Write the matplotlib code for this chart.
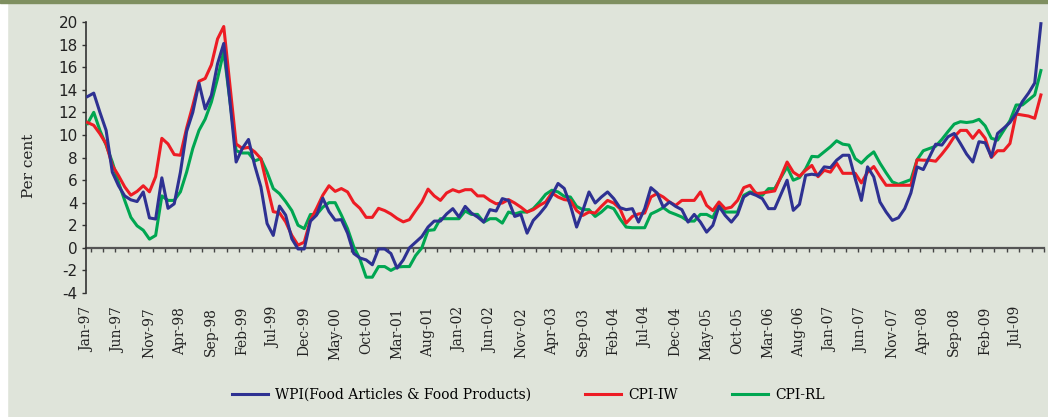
import matplotlib
matplotlib.use("Agg")
import matplotlib.pyplot as plt
from matplotlib.patches import Rectangle
import numpy as np

plt.rcParams["axes.unicode_minus"] = False

# monthly series, Jan-97 .. Nov-09 (per cent, y-o-y)
wpi_food = [
    13.4, 13.7, 12.0, 10.4, 6.7, 5.5, 4.6, 4.25, 4.1, 4.95, 2.65, 2.55,
    6.2, 3.5, 3.9, 6.7, 10.3, 12.0, 14.6, 12.3, 13.5, 16.3, 18.1, 13.0,
    7.6, 8.8, 9.6, 7.3, 5.4, 2.15, 1.1, 3.7, 2.9, 0.8, -0.1, -0.1,
    2.36, 2.9, 4.4, 3.2, 2.45, 2.5, 1.3, -0.5, -0.9, -1.07, -1.5, -0.1,
    -0.1, -0.5, -1.8, -1.07, 0.0, 0.5, 1.0, 1.84, 2.37, 2.37, 3.0, 3.47,
    2.73, 3.67, 3.08, 2.73, 2.28, 3.38, 3.26, 4.36, 4.2, 2.78, 2.96, 1.3,
    2.43, 3.0, 3.67, 4.65, 5.7, 5.26, 3.76, 1.84, 3.3, 4.95, 3.97, 4.5,
    4.95, 4.36, 3.56, 3.38, 3.47, 2.28, 3.47, 5.33, 4.86, 3.6, 4.06, 3.67,
    3.38, 2.28, 2.96, 2.28, 1.39, 1.99, 3.67, 2.87, 2.28, 2.96, 4.5, 4.86,
    4.65, 4.36, 3.47, 3.47, 4.74, 5.99, 3.32, 3.85, 6.43, 6.52, 6.43, 7.17,
    7.1, 7.76, 8.2, 8.2, 6.13, 4.2, 7.17, 6.28, 4.06, 3.17, 2.43, 2.67,
    3.47, 4.86, 7.17, 6.93, 8.06, 9.18, 9.1, 9.84, 10.13, 9.24, 8.3, 7.6,
    9.4, 9.3, 8.06, 10.13, 10.6, 11.1, 11.9, 12.95, 13.7, 14.6, 19.85,
]
cpi_iw = [
    11.1, 10.85, 10.1, 9.2, 7.3, 6.4, 5.4, 4.66, 5.0, 5.5, 4.96, 6.3,
    9.7, 9.2, 8.26, 8.2, 10.6, 12.6, 14.75, 15.0, 16.2, 18.5, 19.6, 14.4,
    9.2, 8.8, 8.9, 8.5, 7.9, 5.5, 3.2, 3.1, 2.3, 1.1, 0.24, 0.5,
    2.45, 3.5, 4.66, 5.5, 5.0, 5.25, 4.95, 4.0, 3.5, 2.7, 2.7, 3.5,
    3.3, 3.0, 2.6, 2.3, 2.5, 3.3, 4.06, 5.2, 4.6, 4.2, 4.86, 5.15,
    4.95, 5.15, 5.15, 4.6, 4.6, 4.2, 3.9, 3.97, 4.27, 3.97, 3.6, 3.17,
    3.38, 3.76, 4.06, 4.86, 4.5, 4.27, 4.2, 3.3, 2.87, 3.17, 3.08, 3.67,
    4.2, 3.97, 3.47, 2.19, 2.78, 3.0, 3.08, 4.5, 4.8, 4.5, 4.06, 3.76,
    4.2, 4.2, 4.2, 4.95, 3.76, 3.3, 4.06, 3.47, 3.6, 4.2, 5.33, 5.54,
    4.8, 4.86, 4.95, 5.04, 6.3, 7.6, 6.7, 6.34, 6.87, 7.3, 6.3, 6.87,
    6.7, 7.5, 6.6, 6.6, 6.6, 5.75, 6.7, 7.2, 6.34, 5.54, 5.54, 5.54,
    5.54, 5.54, 7.8, 7.76, 7.76, 7.67, 8.3, 9.0, 9.84, 10.4, 10.4, 9.7,
    10.4, 9.7, 8.0, 8.6, 8.6, 9.24, 11.85, 11.76, 11.67, 11.47, 13.54,
]
cpi_rl = [
    11.0, 12.0, 10.4, 9.1, 7.6, 5.8, 4.2, 2.7, 1.95, 1.56, 0.77, 1.1,
    4.6, 4.2, 4.2, 4.96, 6.7, 8.8, 10.4, 11.4, 12.9, 15.0, 17.4, 13.0,
    8.6, 8.4, 8.4, 7.7, 7.9, 6.7, 5.25, 4.8, 4.1, 3.3, 2.0, 1.7,
    2.95, 2.95, 3.6, 4.0, 4.0, 2.9, 1.7, 0.1, -1.0, -2.6, -2.6, -1.66,
    -1.66, -2.0, -1.7, -1.66, -1.66, -0.68, 0.0, 1.54, 1.6, 2.58, 2.58, 2.58,
    2.58, 3.26, 2.96, 2.96, 2.28, 2.58, 2.58, 2.19, 3.17, 3.0, 3.17, 3.17,
    3.47, 4.06, 4.74, 5.1, 4.95, 4.56, 4.5, 3.67, 3.38, 3.38, 2.78, 3.17,
    3.67, 3.47, 2.58, 1.84, 1.78, 1.78, 1.78, 3.0, 3.26, 3.56, 3.17, 2.96,
    2.73, 2.37, 2.37, 2.96, 2.96, 2.67, 3.85, 3.17, 3.17, 3.17, 4.65, 4.95,
    4.86, 4.65, 5.24, 5.24, 6.22, 7.17, 5.99, 6.22, 7.0, 8.1, 8.06, 8.5,
    8.95, 9.48, 9.18, 9.1, 7.9, 7.5, 8.06, 8.5, 7.5, 6.64, 5.84, 5.63,
    5.84, 6.04, 7.8, 8.6, 8.8, 9.0, 9.6, 10.3, 10.96, 11.17, 11.1, 11.17,
    11.38, 10.8, 9.7, 9.54, 10.4, 11.26, 12.65, 12.65, 13.1, 13.54, 15.7,
]
tick_labels = [
    "Jan-97", "Jun-97", "Nov-97", "Apr-98", "Sep-98", "Feb-99", "Jul-99",
    "Dec-99", "May-00", "Oct-00", "Mar-01", "Aug-01", "Jan-02", "Jun-02",
    "Nov-02", "Apr-03", "Sep-03", "Feb-04", "Jul-04", "Dec-04", "May-05",
    "Oct-05", "Mar-06", "Aug-06", "Jan-07", "Jun-07", "Nov-07", "Apr-08",
    "Sep-08", "Feb-09", "Jul-09",
]
series_names = ["WPI(Food Articles & Food Products)", "CPI-IW", "CPI-RL"]

bg = "#dfe4da"
serif = "DejaVu Serif"

fig = plt.figure(figsize=(10.48, 4.17), dpi=100, facecolor=bg)
fig.patches.append(Rectangle((0, 0), 7 / 1048, 1, transform=fig.transFigure,
                             color="white", zorder=-1))
fig.patches.append(Rectangle((0, 1 - 3 / 417), 1, 3 / 417, transform=fig.transFigure,
                             color="#7f8f60", zorder=-1))

ax = fig.add_axes([86 / 1048, 124 / 417, 958 / 1048, 271 / 417])
ax.set_facecolor("none")

x = np.arange(len(wpi_food))
ax.plot(x, cpi_rl, color="#00a651", lw=2.2, label=series_names[2], zorder=3)
ax.plot(x, cpi_iw, color="#ed1c24", lw=2.2, label=series_names[1], zorder=4)
ax.plot(x, wpi_food, color="#2e3192", lw=2.2, label=series_names[0], zorder=5)

ax.set_xlim(-0.25, 154.5)
ax.set_ylim(-4, 20)

for s in ["top", "right", "bottom"]:
    ax.spines[s].set_visible(False)
ax.spines["left"].set_color("#333333")
ax.spines["left"].set_linewidth(1.2)

ax.set_yticks(np.arange(-4, 21, 2))
ax.set_yticklabels([str(v) for v in range(-4, 21, 2)])
ax.tick_params(axis="y", direction="out", length=3, width=1, color="#333333",
               labelsize=11, labelcolor="#222222", pad=3)

ax.set_xticks(np.arange(0, len(wpi_food), 5))
ax.set_xticklabels(tick_labels, rotation=90, fontfamily=serif, fontsize=10,
                   color="#222222")
ax.tick_params(axis="x", length=0, pad=10)

# zero line with small month ticks
zero = ax.secondary_xaxis(4 / 24)
zero.set_xticks(np.arange(0.5, 155, 2))
zero.tick_params(direction="out", length=3, width=1, color="#444444",
                 labelbottom=False)
zero.spines["bottom"].set_color("#555555")
zero.spines["bottom"].set_linewidth(1.6)

ax.set_ylabel("Per cent", fontfamily=serif, fontsize=11, color="#222222")
ax.yaxis.set_label_coords(-0.052, 0.47)

handles, labels = ax.get_legend_handles_labels()
order = [2, 1, 0]
fig.legend([handles[i] for i in order], [labels[i] for i in order],
           loc="center", bbox_to_anchor=(0.504, 0.053), ncol=3, frameon=False,
           prop={"family": serif, "size": 10}, handlelength=2.6,
           handletextpad=0.5, columnspacing=3.9)

fig.savefig("out.png", dpi=100, facecolor=bg)
